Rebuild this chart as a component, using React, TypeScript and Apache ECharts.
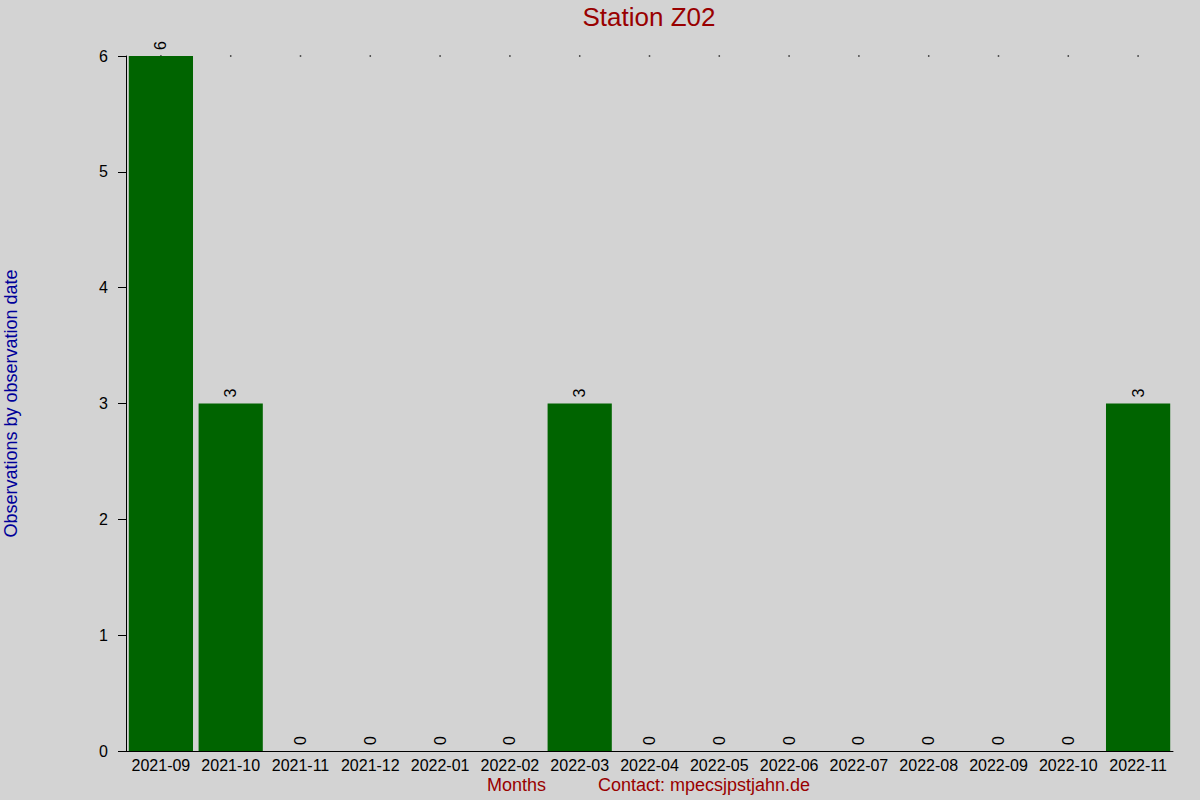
import React, { useEffect, useRef } from "react";
import * as echarts from "echarts";

const months = [
  "2021-09", "2021-10", "2021-11", "2021-12", "2022-01", "2022-02", "2022-03",
  "2022-04", "2022-05", "2022-06", "2022-07", "2022-08", "2022-09", "2022-10", "2022-11",
];
const observations = [6, 3, 0, 0, 0, 0, 3, 0, 0, 0, 0, 0, 0, 0, 3];
const topMarkers = [6, 6, 6, 6, 6, 6, 6, 6, 6, 6, 6, 6, 6, 6, 6];
const yTicks = { min: 0, max: 6, interval: 1 };

const FONT = "'Liberation Sans', Arial, sans-serif";

export default function App() {
  const ref = useRef<HTMLDivElement>(null);
  useEffect(() => {
    const chart = echarts.init(ref.current!, null, { renderer: "svg" });
    chart.setOption({
      animation: false,
      backgroundColor: "#d3d3d3",
      textStyle: { fontFamily: FONT },
      title: {
        text: "Station Z02",
        left: 649,
        top: 4,
        padding: 0,
        textAlign: "center",
        textStyle: { color: "#990000", fontSize: 26, fontWeight: "normal", fontFamily: FONT },
      },
      grid: { left: 126, right: 27, top: 56, bottom: 49, containLabel: false, outerBoundsMode: "none" },
      xAxis: {
        type: "category",
        data: months,
        axisLine: { show: true, lineStyle: { color: "#000", width: 1 } },
        axisTick: { show: false },
        axisLabel: { color: "#000", fontSize: 16, margin: 6, fontFamily: FONT, interval: 0 },
        splitLine: { show: false },
      },
      yAxis: {
        type: "value",
        min: yTicks.min,
        max: yTicks.max,
        interval: yTicks.interval,
        name: "Observations by observation date",
        nameLocation: "middle",
        nameGap: 106,
        nameRotate: 90,
        nameTextStyle: { color: "#000099", fontSize: 18, fontFamily: FONT },
        axisLine: { show: true, lineStyle: { color: "#000", width: 1 } },
        axisTick: { show: true, length: 8, lineStyle: { color: "#000" } },
        axisLabel: { color: "#000", fontSize: 16, margin: 18, fontFamily: FONT },
        splitLine: { show: false },
      },
      series: [
        {
          type: "bar",
          data: observations,
          barCategoryGap: "8%",
          z: 3,
          itemStyle: { color: "#006400" },
          label: {
            show: true,
            position: "top",
            distance: 6,
            rotate: 90,
            align: "left",
            verticalAlign: "middle",
            color: "#000",
            fontSize: 16,
            fontFamily: FONT,
          },
        },
        {
          type: "scatter",
          data: topMarkers,
          symbol: "rect",
          symbolSize: 1.5,
          z: 1,
          itemStyle: { color: "#000" },
          silent: true,
        },
      ],
      graphic: [
        {
          type: "text",
          left: 487,
          top: 776,
          style: { text: "Months", fill: "#990000", fontSize: 18, fontFamily: FONT },
        },
        {
          type: "text",
          left: 598,
          top: 776,
          style: { text: "Contact: mpecsjpstjahn.de", fill: "#990000", fontSize: 18, fontFamily: FONT },
        },
      ],
    });
    return () => chart.dispose();
  }, []);
  return <div ref={ref} style={{ width: 1200, height: 800, position: "absolute", left: 0, top: 0 }} />;
}
